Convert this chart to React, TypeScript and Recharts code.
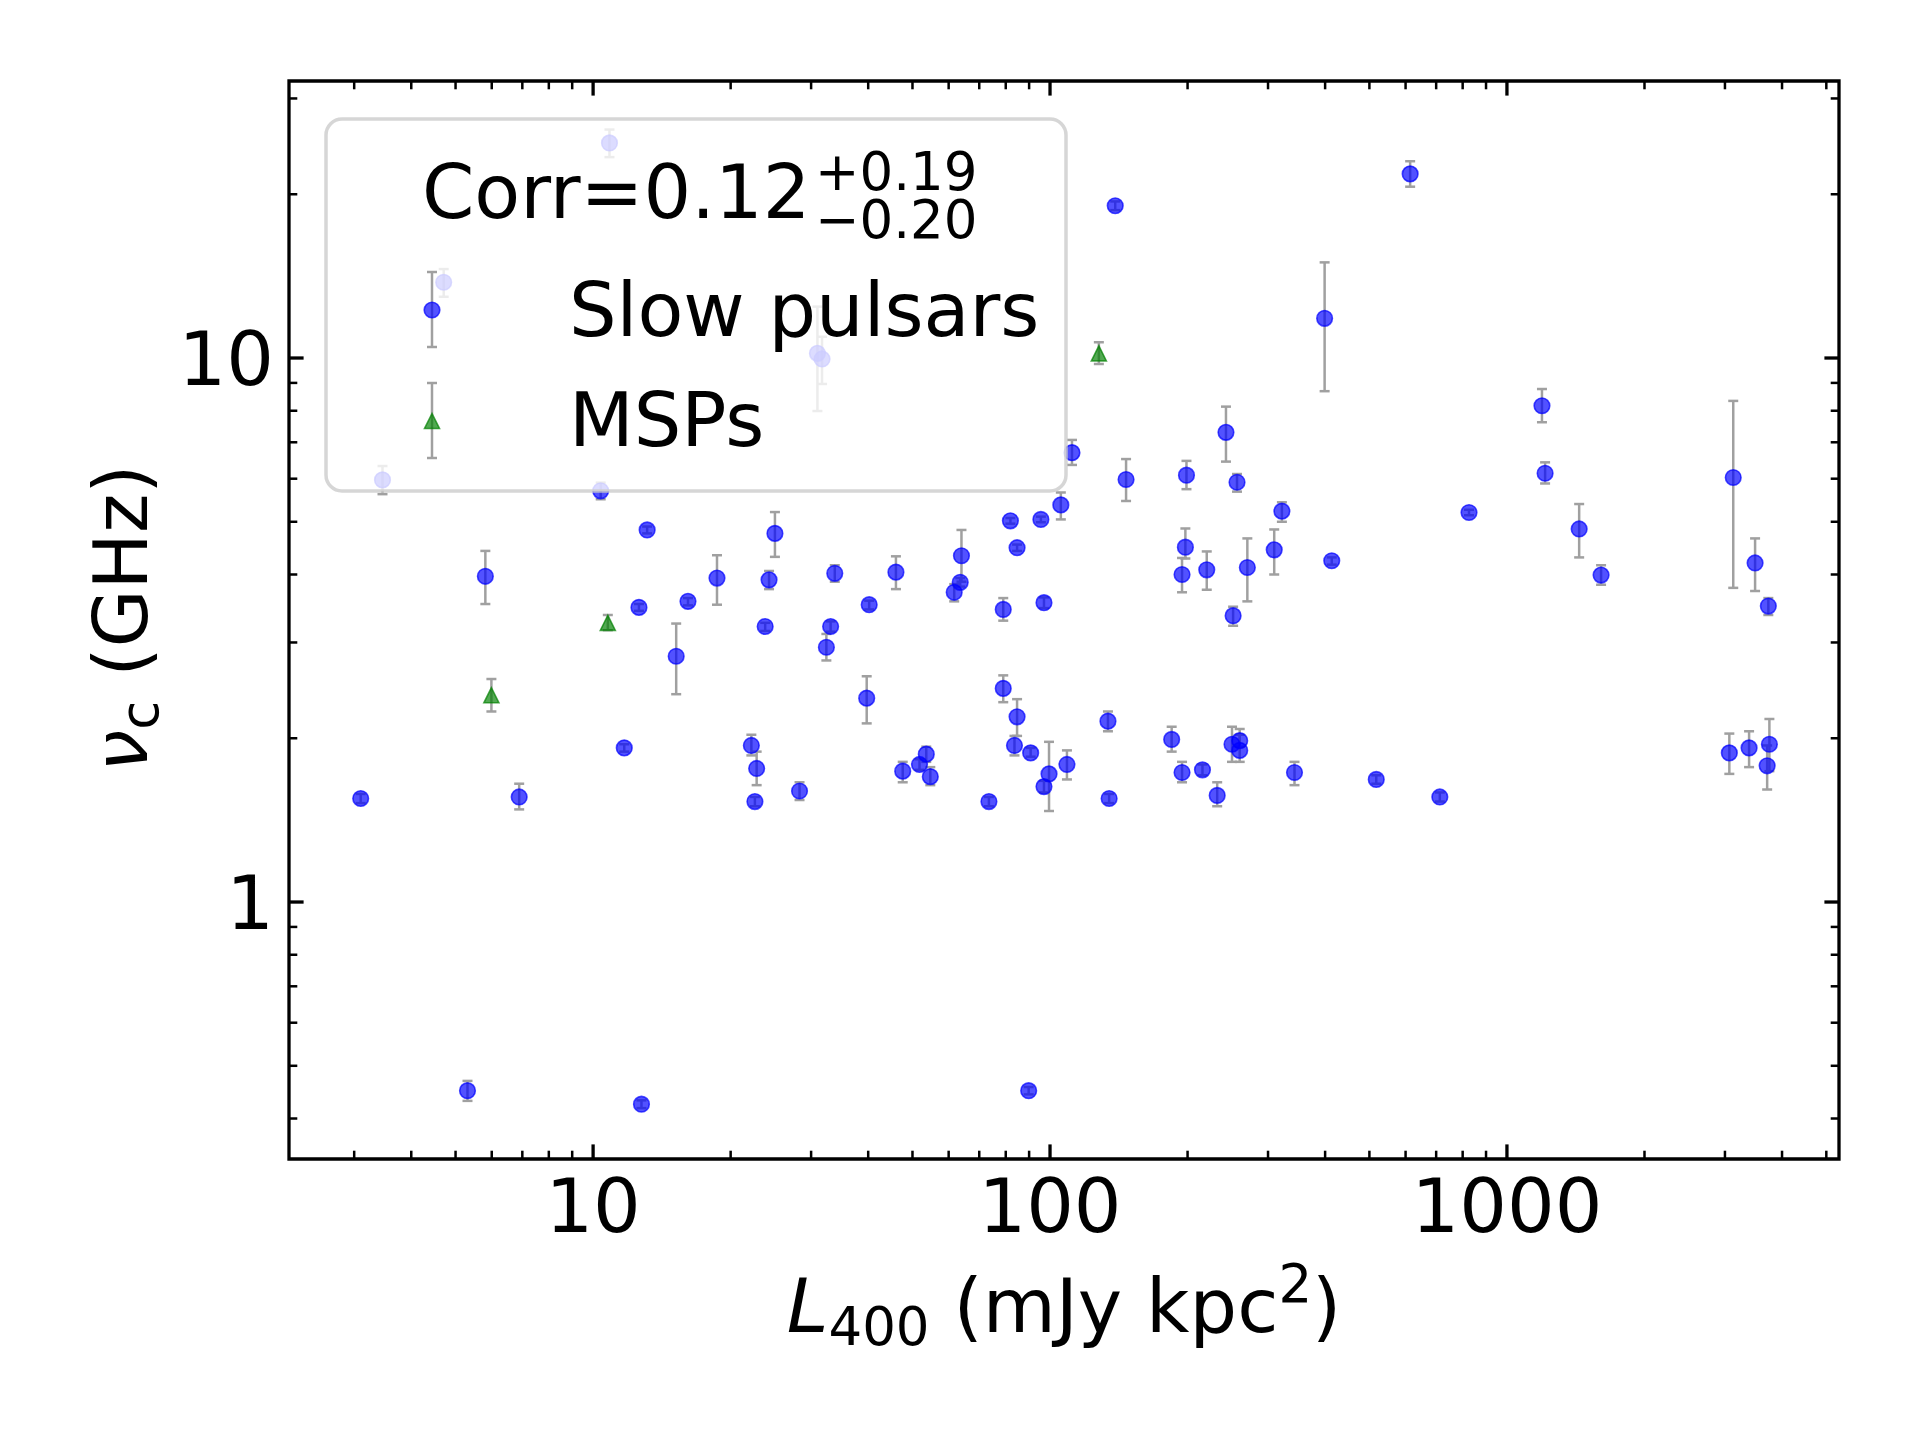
import React from 'react';
import { ScatterChart, Scatter, XAxis, YAxis, ErrorBar, ReferenceArea } from 'recharts';

// slow pulsars: luminosity, cutoff frequency and its lower / upper bounds
const slowL = [
  3.46, 10.39, 13.13, 25.0, 5.81, 18.67, 24.27, 33.8, 46.0, 64.0, 63.6, 61.7,
  81.9, 95.5, 105.6, 84.7, 12.6, 16.13, 23.8, 33.1, 40.2, 79.0, 97.0, 15.2,
  32.4, 39.7, 79.0, 84.7, 11.7, 22.2, 22.8, 47.6, 53.6, 51.8, 54.7, 83.6,
  90.7, 99.5, 97.0, 108.9, 3.1, 6.89, 22.6, 28.3, 73.5, 111.7, 146.7, 198.9,
  256.6, 321.7, 197.8, 194.5, 220.3, 270.3, 309.5, 413.6, 251.6, 1212, 826, 1439,
  1607, 3128, 3492, 3733, 133.9, 184.6, 194.5, 215.6, 232.2, 134.7, 250.2, 260.1,
  260.1, 342.8, 517.6, 713, 3067, 3388, 3753, 3711, 138.9, 614, 399, 242.7,
  1193, 10.86, 4.71, 30.97, 31.7, 5.31, 12.76, 89.8,
];
const slowNu = [
  5.97, 5.7, 4.83, 4.76, 3.97, 3.94, 3.91, 4.02, 4.04, 4.33, 3.87, 3.71,
  5.02, 5.05, 5.37, 4.48, 3.48, 3.57, 3.21, 3.21, 3.52, 3.45, 3.55, 2.83,
  2.94, 2.37, 2.47, 2.19, 1.92, 1.94, 1.76, 1.74, 1.87, 1.79, 1.7, 1.94,
  1.88, 1.72, 1.63, 1.79, 1.55, 1.56, 1.53, 1.6, 1.53, 6.7, 5.98, 6.09,
  5.91, 5.23, 4.49, 4.0, 4.08, 4.12, 4.44, 4.24, 3.36, 6.14, 5.2, 4.85,
  3.99, 6.03, 4.2, 3.5, 2.15, 1.99, 1.73, 1.75, 1.57, 1.55, 1.95, 1.98,
  1.9, 1.73, 1.68, 1.56, 1.88, 1.92, 1.95, 1.78, 19.05, 21.8, 11.83, 7.3,
  8.17, 24.85, 13.78, 10.2, 9.96, 0.45, 0.425, 0.45,
];
const slowLo = [
  5.62, 5.5, 4.76, 4.31, 3.53, 3.52, 3.76, 3.88, 3.76, 3.88, 3.8, 3.57,
  4.96, 4.99, 5.05, 4.42, 3.43, 3.51, 3.15, 3.14, 3.45, 3.29, 3.47, 2.41,
  2.78, 2.13, 2.33, 2.02, 1.89, 1.86, 1.64, 1.66, 1.81, 1.75, 1.64, 1.86,
  1.85, 1.47, 1.59, 1.68, 1.52, 1.48, 1.5, 1.54, 1.5, 6.36, 5.46, 5.74,
  5.68, 5.0, 4.28, 3.71, 3.75, 3.57, 4.0, 4.17, 3.22, 5.88, 5.14, 4.3,
  3.83, 3.78, 3.73, 3.37, 2.06, 1.89, 1.66, 1.71, 1.5, 1.52, 1.81, 1.93,
  1.81, 1.64, 1.65, 1.53, 1.72, 1.77, 1.74, 1.61, 18.7, 20.65, 8.69, 6.45,
  7.62, 23.4, 12.96, 7.99, 8.96, 0.431, 0.418, 0.443,
];
const slowHi = [
  6.33, 5.9, 4.9, 5.21, 4.42, 4.34, 4.06, 4.16, 4.32, 4.83, 3.94, 3.84,
  5.08, 5.11, 5.66, 4.54, 3.53, 3.62, 3.26, 3.28, 3.58, 3.62, 3.63, 3.25,
  3.11, 2.6, 2.61, 2.36, 1.95, 2.03, 1.89, 1.81, 1.93, 1.83, 1.77, 2.02,
  1.92, 1.97, 1.67, 1.9, 1.58, 1.65, 1.56, 1.66, 1.56, 7.07, 6.52, 6.47,
  6.12, 5.43, 4.86, 4.29, 4.41, 4.66, 4.84, 4.3, 3.49, 6.43, 5.26, 5.39,
  4.16, 8.34, 4.66, 3.62, 2.24, 2.1, 1.81, 1.79, 1.66, 1.58, 2.1, 2.03,
  2.08, 1.81, 1.71, 1.59, 2.04, 2.06, 2.17, 1.94, 19.4, 23.0, 14.99, 8.14,
  8.77, 26.3, 14.57, 12.43, 10.94, 0.469, 0.432, 0.457,
];

// millisecond pulsars
const mspL = [10.77, 5.99, 127.9];
const mspNu = [3.26, 2.4, 10.2];
const mspLo = [3.16, 2.24, 9.75];
const mspHi = [3.37, 2.57, 10.69];

const xTicks = [3, 4, 5, 6, 7, 8, 9, 10, 20, 30, 40, 50, 60, 70, 80, 90, 100, 200, 300, 400, 500, 600, 700, 800, 900, 1000, 2000, 3000, 4000, 5000];
const yTicks = [0.4, 0.5, 0.6, 0.7, 0.8, 0.9, 1, 2, 3, 4, 5, 6, 7, 8, 9, 10, 20, 30];
const xMajor = [10, 100, 1000];
const yMajor = [1, 10];

const X_DOMAIN: [number, number] = [2.16, 5330];
const Y_DOMAIN: [number, number] = [0.337, 32.3];

const W = 1920;
const H = 1440;
const LEFT = 289;
const RIGHT = 1839;
const TOP = 81;
const BOTTOM = 1159;
const FONT = '"DejaVu Sans", sans-serif';
const ERR = '#a0a0a0';

const build = (l: number[], nu: number[], lo: number[], hi: number[]) =>
  l.map((x, i) => ({ x, y: nu[i], err: [nu[i] - lo[i], hi[i] - nu[i]] }));

const slowData = build(slowL, slowNu, slowLo, slowHi);
const mspData = build(mspL, mspNu, mspLo, mspHi);

const XTick = (props: any) => {
  const { x, payload } = props;
  const major = xMajor.includes(payload.value);
  const len = major ? 14.6 : 8.3;
  const sw = major ? 3.3 : 2.5;
  return (
    <g>
      <line x1={x} x2={x} y1={BOTTOM} y2={BOTTOM - len} stroke="#000" strokeWidth={sw} />
      <line x1={x} x2={x} y1={TOP} y2={TOP + len} stroke="#000" strokeWidth={sw} />
      {major && (
        <text x={x} y={BOTTOM + 73} textAnchor="middle" fontSize={75} fontFamily={FONT} fill="#000">
          {payload.value}
        </text>
      )}
    </g>
  );
};

const YTick = (props: any) => {
  const { y, payload } = props;
  const major = yMajor.includes(payload.value);
  const len = major ? 14.6 : 8.3;
  const sw = major ? 3.3 : 2.5;
  return (
    <g>
      <line x1={LEFT} x2={LEFT + len} y1={y} y2={y} stroke="#000" strokeWidth={sw} />
      <line x1={RIGHT} x2={RIGHT - len} y1={y} y2={y} stroke="#000" strokeWidth={sw} />
      {major && (
        <text x={274} y={y + 27} textAnchor="end" fontSize={75} fontFamily={FONT} fill="#000">
          {payload.value}
        </text>
      )}
    </g>
  );
};

const BlueDot = (p: any) => (
  <circle cx={p.cx} cy={p.cy} r={7.8} fill="#0000ff" fillOpacity={0.68} stroke="#0000ff" strokeOpacity={0.7} strokeWidth={1.6} />
);

const GreenTri = (p: any) => {
  const s = 7.5;
  return (
    <polygon
      points={`${p.cx},${p.cy - s} ${p.cx - s},${p.cy + s} ${p.cx + s},${p.cy + s}`}
      fill="#008000"
      fillOpacity={0.68}
      stroke="#008000"
      strokeOpacity={0.7}
      strokeWidth={1.6}
    />
  );
};

const LegendErr = ({ x, y1, y2 }: { x: number; y1: number; y2: number }) => (
  <g stroke={ERR} strokeWidth={2.5}>
    <line x1={x} x2={x} y1={y1} y2={y2} />
    <line x1={x - 5} x2={x + 5} y1={y1} y2={y1} />
    <line x1={x - 5} x2={x + 5} y1={y2} y2={y2} />
  </g>
);

const LegendBox = () => (
  <svg width={W} height={H} style={{ position: 'absolute', left: 0, top: 0, pointerEvents: 'none' }}>
    <rect x={326} y={119} width={740} height={372} rx={16} fill="#fff" fillOpacity={0.8} stroke="#cccccc" strokeOpacity={0.8} strokeWidth={3.5} />
    <text x={422} y={218} fontSize={75} fontFamily={FONT} fill="#000">
      Corr=0.12
      <tspan x={815} y={190} fontSize={53}>+0.19</tspan>
      <tspan x={815} y={238} fontSize={53}>−0.20</tspan>
    </text>
    <LegendErr x={432} y1={272} y2={347} />
    <BlueDot cx={432} cy={310} />
    <text x={569} y={336} fontSize={75} fontFamily={FONT} fill="#000">Slow pulsars</text>
    <LegendErr x={432} y1={383} y2={458} />
    <GreenTri cx={432} cy={421} />
    <text x={569} y={446} fontSize={75} fontFamily={FONT} fill="#000">MSPs</text>
  </svg>
);

export default function App() {
  return (
    <div style={{ position: 'absolute', left: 0, top: 0, width: W, height: H, background: '#fff' }}>
      <ScatterChart width={W} height={H} margin={{ top: TOP, right: W - RIGHT, bottom: H - BOTTOM - 100, left: LEFT - 150 }}>
        <XAxis
          dataKey="x"
          type="number"
          scale="log"
          domain={X_DOMAIN}
          allowDataOverflow
          ticks={xTicks}
          interval={0}
          tick={<XTick />}
          tickLine={false}
          axisLine={false}
          tickSize={0}
          tickMargin={0}
          height={100}
        />
        <YAxis
          dataKey="y"
          type="number"
          scale="log"
          domain={Y_DOMAIN}
          allowDataOverflow
          ticks={yTicks}
          interval={0}
          tick={<YTick />}
          tickLine={false}
          axisLine={false}
          tickSize={0}
          tickMargin={0}
          width={150}
        />
        <Scatter data={slowData} shape={<BlueDot />} isAnimationActive={false}>
          <ErrorBar dataKey="err" direction="y" width={5} stroke={ERR} strokeWidth={2.5} isAnimationActive={false} />
        </Scatter>
        <Scatter data={mspData} shape={<GreenTri />} isAnimationActive={false}>
          <ErrorBar dataKey="err" direction="y" width={5} stroke={ERR} strokeWidth={2.5} isAnimationActive={false} />
        </Scatter>
        <ReferenceArea
          x1={X_DOMAIN[0]}
          x2={X_DOMAIN[1]}
          y1={Y_DOMAIN[0]}
          y2={Y_DOMAIN[1]}
          fill="none"
          stroke="#000"
          strokeWidth={3.3}
          ifOverflow="visible"
        />
        <text x={1064} y={1332} textAnchor="middle" fontSize={75} fontFamily={FONT} fill="#000">
          <tspan fontStyle="italic">L</tspan>
          <tspan fontSize={53} dy={13}>400</tspan>
          <tspan dy={-13}> (mJy kpc</tspan>
          <tspan fontSize={53} dy={-30}>2</tspan>
          <tspan dy={30}>)</tspan>
        </text>
        <text x={147} y={618} transform="rotate(-90, 147, 618)" textAnchor="middle" fontSize={75} fontFamily={FONT} fill="#000">
          <tspan fontStyle="italic">ν</tspan>
          <tspan fontSize={53} dy={11}>c</tspan>
          <tspan dy={-11}> (GHz)</tspan>
        </text>
      </ScatterChart>
      <LegendBox />
    </div>
  );
}
